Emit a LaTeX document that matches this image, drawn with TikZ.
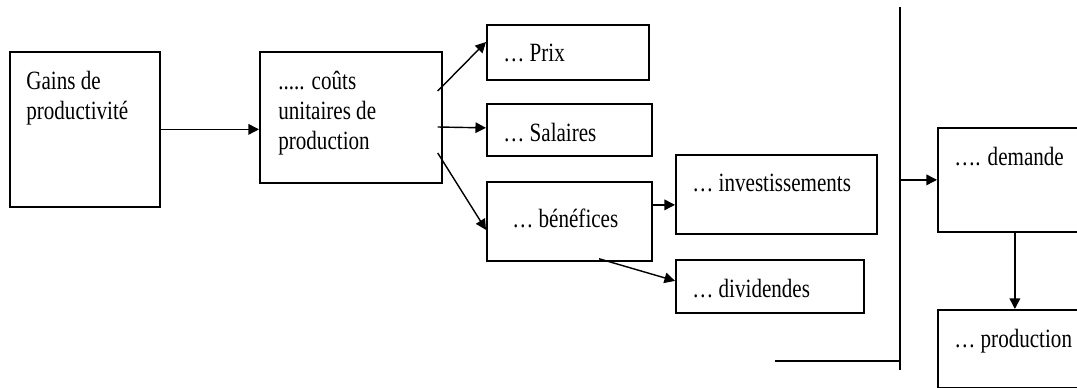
\documentclass[tikz,border=0pt]{standalone}
\usepackage{fontspec}
\setmainfont{Liberation Serif}[FakeStretch=0.8]
\usepackage{tikz}
\usetikzlibrary{arrows.meta}

\tikzset{
    boite/.style={draw, line width=1pt, anchor=north west, inner sep=0pt},
    texte/.style={anchor=north west, inner sep=0pt, align=left,
        font=\fontsize{15}{17}\selectfont, xshift=0.34cm, yshift=-0.4cm},
    fleche/.style={line width=0.8pt, -{Triangle[length=6pt,width=6pt]}}
}

\begin{document}
\begin{tikzpicture}[x=0.02cm, y=-0.02cm]
        \clip (0,0) rectangle (1077,388);
        \node[boite, minimum width=3cm, minimum height=3.1cm,
            label={[texte]north west:Gains de\\productivité}] (gains) at (9,51) {};
        \node[boite, minimum width=3.64cm, minimum height=2.62cm,
            label={[texte, xshift=0.04cm]north west:..... coûts\\unitaires de\\production}] (couts) at (259,51) {};
        \node[boite, minimum width=3.24cm, minimum height=1.1cm,
            label={[texte]north west:… Prix}] (prix) at (486,24) {};
        \node[boite, minimum width=3.3cm, minimum height=1.04cm,
            label={[texte]north west:… Salaires}] (salaires) at (486,103) {};
        \node[boite, minimum width=3.3cm, minimum height=1.58cm,
            label={[texte, xshift=0.18cm, yshift=-0.16cm]north west:… bénéfices}] (benefices) at (486,181) {};
        \node[boite, minimum width=4.02cm, minimum height=1.58cm,
            label={[texte]north west:… investissements}] (invest) at (675,154) {};
        \node[boite, minimum width=3.76cm, minimum height=1.06cm,
            label={[texte]north west:… dividendes}] (dividendes) at (675,259) {};
        \node[boite, minimum width=3.08cm, minimum height=2.08cm,
            label={[texte]north west:…. demande}] (demande) at (937,127) {};
        \node[boite, minimum width=3.08cm, minimum height=1.56cm,
            label={[texte]north west:… production}] (production) at (937,309) {};

        \coordinate (haut) at (900,7);
        \coordinate (bas) at (900,370);
        \coordinate (gauche) at (775,361);

        \draw[fleche] (gains.east) -- (gains.east -| couts.west);
        \draw[fleche] ([shift={(-5,40)}]couts.north east) -- ([shift={(0,18)}]prix.north west);
        \draw[fleche] ([shift={(-5,76)}]couts.north east) -- ([shift={(0,-2)}]salaires.west);
        \draw[fleche] ([shift={(-5,102)}]couts.north east) -- ([shift={(0,8.5)}]benefices.west);
        \draw[fleche] ([shift={(0,-16.5)}]benefices.east) coordinate (b1) -- (b1 -| invest.west);
        \draw[fleche] ([shift={(113,-3)}]benefices.south west) -- ([shift={(0,-5.5)}]dividendes.west);
        \draw[line width=1pt] (haut) -- (bas);
        \draw[line width=1pt] (gauche) -- (gauche -| bas);
        \draw[fleche] (demande.west -| haut) -- (demande.west);
        \draw[fleche] (demande.south) -- (production.north);
\end{tikzpicture}
\end{document}
